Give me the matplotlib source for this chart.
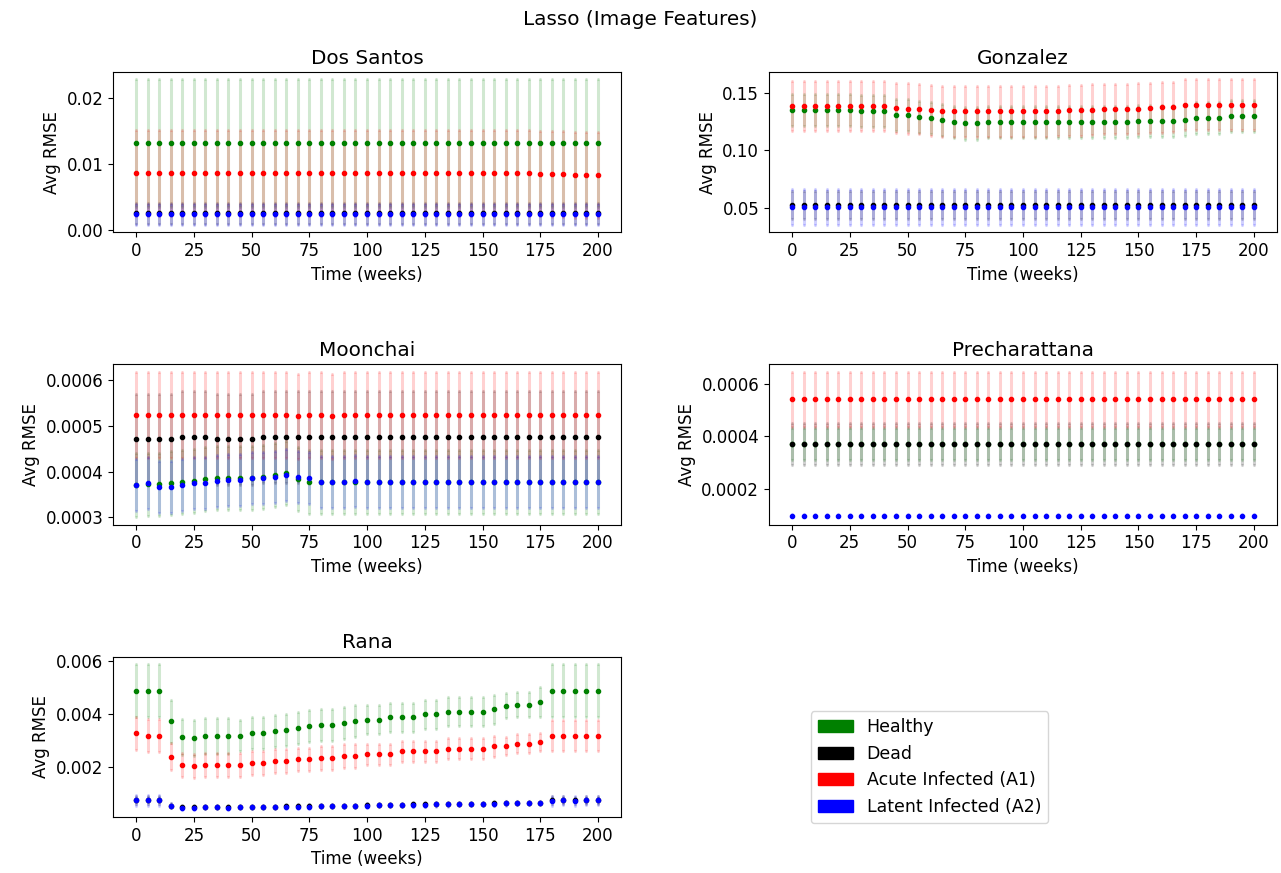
"""Lasso RMSE over time for each model, one panel per model (mean ± std)."""
import matplotlib.pyplot as plt
import matplotlib.patches as mpatches
from matplotlib.colors import to_rgba

plt.rcParams["font.size"] = 12

weeks = [0, 5, 10, 15, 20, 25, 30, 35, 40, 45,
         50, 55, 60, 65, 70, 75, 80, 85, 90, 95,
         100, 105, 110, 115, 120, 125, 130, 135, 140, 145,
         150, 155, 160, 165, 170, 175, 180, 185, 190, 195,
         200]

SERIES = [("Healthy", "green"), ("Dead", "black"),
          ("Acute Infected (A1)", "red"), ("Latent Infected (A2)", "blue")]

# Dos Santos
ds_healthy = [0.0132, 0.0132, 0.0132, 0.0132, 0.0132, 0.0132, 0.0132, 0.0132, 0.0132, 0.0132,
              0.0132, 0.0132, 0.0132, 0.0132, 0.0132, 0.0132, 0.0132, 0.0132, 0.0132, 0.0132,
              0.0132, 0.0132, 0.0132, 0.0132, 0.0132, 0.0132, 0.0132, 0.0132, 0.0132, 0.0132,
              0.0132, 0.0132, 0.0132, 0.0132, 0.0132, 0.0132, 0.0132, 0.0132, 0.0132, 0.0132,
              0.0132]
ds_dead = [0.0026, 0.0026, 0.0026, 0.0026, 0.0026, 0.0026, 0.0026, 0.0026, 0.0026, 0.0026,
           0.0026, 0.0026, 0.0026, 0.0026, 0.0026, 0.0026, 0.0026, 0.0026, 0.0026, 0.0026,
           0.0026, 0.0026, 0.0026, 0.0026, 0.0026, 0.0026, 0.0026, 0.0026, 0.0026, 0.0026,
           0.0026, 0.0026, 0.0026, 0.0026, 0.0026, 0.0026, 0.0026, 0.0026, 0.0026, 0.0026,
           0.0026]
ds_acute = [0.0087, 0.0087, 0.0087, 0.0087, 0.0087, 0.0087, 0.0087, 0.0087, 0.0087, 0.0087,
            0.0087, 0.0087, 0.0087, 0.0087, 0.0087, 0.0087, 0.0087, 0.0087, 0.0087, 0.0087,
            0.0087, 0.0087, 0.0087, 0.0087, 0.0087, 0.0087, 0.0087, 0.0087, 0.0087, 0.0087,
            0.0087, 0.0087, 0.0087, 0.0087, 0.0087, 0.0086, 0.0085, 0.0085, 0.0084, 0.0084,
            0.0084]
ds_latent = [0.0024, 0.0024, 0.0024, 0.0024, 0.0024, 0.0024, 0.0024, 0.0024, 0.0024, 0.0024,
             0.0024, 0.0024, 0.0024, 0.0024, 0.0024, 0.0024, 0.0024, 0.0024, 0.0024, 0.0024,
             0.0024, 0.0024, 0.0024, 0.0024, 0.0024, 0.0024, 0.0024, 0.0024, 0.0024, 0.0024,
             0.0024, 0.0024, 0.0024, 0.0024, 0.0024, 0.0024, 0.0024, 0.0024, 0.0024, 0.0024,
             0.0024]
ds_err = [0.0097, 0.0016, 0.0065, 0.0016]

# Gonzalez
gz_healthy = [0.1355, 0.1355, 0.1355, 0.1355, 0.1355, 0.1355, 0.134, 0.134, 0.134, 0.131,
              0.1305, 0.129, 0.128, 0.1265, 0.125, 0.1235, 0.1235, 0.1245, 0.125, 0.125,
              0.125, 0.125, 0.125, 0.125, 0.125, 0.125, 0.125, 0.125, 0.125, 0.125,
              0.1255, 0.126, 0.126, 0.126, 0.1266, 0.128, 0.128, 0.1284, 0.1297, 0.1297,
              0.1297]
gz_dead = [0.0522, 0.0522, 0.0522, 0.0522, 0.0522, 0.0522, 0.0522, 0.0522, 0.0522, 0.0522,
           0.0522, 0.0522, 0.0522, 0.0522, 0.0522, 0.0522, 0.0522, 0.0522, 0.0522, 0.0522,
           0.0522, 0.0522, 0.0522, 0.0522, 0.0522, 0.0522, 0.0522, 0.0522, 0.0522, 0.0522,
           0.0522, 0.0522, 0.0522, 0.0522, 0.0522, 0.0522, 0.0522, 0.0522, 0.0522, 0.0522,
           0.0522]
gz_acute = [0.1386, 0.1386, 0.1386, 0.1386, 0.1386, 0.1386, 0.1386, 0.1386, 0.1386, 0.137,
            0.1365, 0.136, 0.135, 0.134, 0.134, 0.134, 0.134, 0.134, 0.134, 0.134,
            0.134, 0.134, 0.134, 0.1345, 0.135, 0.135, 0.1355, 0.136, 0.136, 0.136,
            0.1365, 0.137, 0.1375, 0.138, 0.140, 0.140, 0.140, 0.140, 0.140, 0.140,
            0.140]
gz_latent = [0.0505, 0.0505, 0.0505, 0.0505, 0.0505, 0.0505, 0.0505, 0.0505, 0.0505, 0.0505,
             0.0505, 0.0505, 0.0505, 0.0505, 0.0505, 0.0505, 0.0505, 0.0505, 0.0505, 0.0505,
             0.0505, 0.0505, 0.0505, 0.0505, 0.0505, 0.0505, 0.0505, 0.0505, 0.0505, 0.0505,
             0.0505, 0.0505, 0.0505, 0.0505, 0.0505, 0.0505, 0.0505, 0.0505, 0.0505, 0.0505,
             0.0505]
gz_err = [0.014, 0.012, 0.022, 0.0155]

# Moonchai
mc_healthy = [0.00037, 0.000372, 0.000372, 0.000375, 0.000378, 0.00038, 0.000383, 0.000386, 0.000387, 0.000387,
              0.000387, 0.000389, 0.000393, 0.000398, 0.000383, 0.000378, 0.000377, 0.000377, 0.000377, 0.000377,
              0.000377, 0.000377, 0.000377, 0.000377, 0.000377, 0.000377, 0.000377, 0.000377, 0.000377, 0.000377,
              0.000377, 0.000377, 0.000377, 0.000377, 0.000377, 0.000377, 0.000377, 0.000377, 0.000377, 0.000377,
              0.000377]
mc_dead = [0.000471, 0.000471, 0.000471, 0.000471, 0.000476, 0.000476, 0.000476, 0.000471, 0.000471, 0.000471,
           0.000471, 0.000476, 0.000476, 0.000476, 0.000476, 0.000476, 0.000476, 0.000476, 0.000476, 0.000476,
           0.000476, 0.000476, 0.000476, 0.000476, 0.000476, 0.000476, 0.000476, 0.000476, 0.000476, 0.000476,
           0.000476, 0.000476, 0.000476, 0.000476, 0.000476, 0.000476, 0.000476, 0.000476, 0.000476, 0.000476,
           0.000476]
mc_acute = [0.000525, 0.000525, 0.000525, 0.000525, 0.000525, 0.000525, 0.000525, 0.000525, 0.000525, 0.000525,
            0.000525, 0.000525, 0.000525, 0.000525, 0.000521, 0.000525, 0.000525, 0.000521, 0.000525, 0.000525,
            0.000525, 0.000525, 0.000525, 0.000525, 0.000525, 0.000525, 0.000525, 0.000525, 0.000525, 0.000525,
            0.000525, 0.000525, 0.000525, 0.000525, 0.000525, 0.000525, 0.000525, 0.000525, 0.000525, 0.000525,
            0.000525]
mc_latent = [0.00037, 0.000375, 0.000367, 0.000367, 0.000371, 0.000375, 0.000375, 0.00038, 0.000382, 0.000382,
             0.000387, 0.000387, 0.000389, 0.000393, 0.000388, 0.000386, 0.000378, 0.000378, 0.000378, 0.00038,
             0.000378, 0.000378, 0.000378, 0.000378, 0.000378, 0.000378, 0.000378, 0.000378, 0.000378, 0.000378,
             0.000378, 0.000378, 0.000378, 0.000378, 0.000378, 0.000378, 0.000378, 0.000378, 0.000378, 0.000378,
             0.000378]
mc_err = [0.00007, 0.0001, 0.000094, 0.000057]

# Precharattana
pc_healthy = [0.00037, 0.00037, 0.00037, 0.00037, 0.00037, 0.00037, 0.00037, 0.00037, 0.00037, 0.00037,
              0.00037, 0.00037, 0.00037, 0.00037, 0.00037, 0.00037, 0.00037, 0.00037, 0.00037, 0.00037,
              0.00037, 0.00037, 0.00037, 0.00037, 0.00037, 0.00037, 0.00037, 0.00037, 0.00037, 0.00037,
              0.00037, 0.00037, 0.00037, 0.00037, 0.00037, 0.00037, 0.00037, 0.00037, 0.00037, 0.00037,
              0.00037]
pc_dead = [0.000372, 0.000372, 0.000372, 0.000372, 0.000372, 0.000372, 0.000372, 0.000372, 0.000372, 0.000372,
           0.000372, 0.000372, 0.000372, 0.000372, 0.000372, 0.000372, 0.000372, 0.000372, 0.000372, 0.000372,
           0.000372, 0.000372, 0.000372, 0.000372, 0.000372, 0.000372, 0.000372, 0.000372, 0.000372, 0.000372,
           0.000372, 0.000372, 0.000372, 0.000372, 0.000372, 0.000372, 0.000372, 0.000372, 0.000372, 0.000372,
           0.000372]
pc_acute = [0.00054, 0.00054, 0.00054, 0.00054, 0.00054, 0.00054, 0.00054, 0.00054, 0.00054, 0.00054,
            0.00054, 0.00054, 0.00054, 0.00054, 0.00054, 0.00054, 0.00054, 0.00054, 0.00054, 0.00054,
            0.00054, 0.00054, 0.00054, 0.00054, 0.00054, 0.00054, 0.00054, 0.00054, 0.00054, 0.00054,
            0.00054, 0.00054, 0.00054, 0.00054, 0.00054, 0.00054, 0.00054, 0.00054, 0.00054, 0.00054,
            0.00054]
pc_latent = [0.0001, 0.0001, 0.0001, 0.0001, 0.0001, 0.0001, 0.0001, 0.0001, 0.0001, 0.0001,
             0.0001, 0.0001, 0.0001, 0.0001, 0.0001, 0.0001, 0.0001, 0.0001, 0.0001, 0.0001,
             0.0001, 0.0001, 0.0001, 0.0001, 0.0001, 0.0001, 0.0001, 0.0001, 0.0001, 0.0001,
             0.0001, 0.0001, 0.0001, 0.0001, 0.0001, 0.0001, 0.0001, 0.0001, 0.0001, 0.0001,
             0.0001]
pc_err = [0.00006, 0.00008, 0.000105, 0.000007]

# Rana
rn_healthy = [0.0049, 0.0049, 0.0049, 0.00374, 0.00315, 0.0031, 0.00319, 0.0032, 0.0032, 0.0032,
              0.0033, 0.0033, 0.00336, 0.00342, 0.00349, 0.00355, 0.0036, 0.0036, 0.00368, 0.00374,
              0.0038, 0.0038, 0.0039, 0.0039, 0.0039, 0.004, 0.004, 0.0041, 0.0041, 0.0041,
              0.0041, 0.0042, 0.00433, 0.00436, 0.00436, 0.00447, 0.0049, 0.0049, 0.0049, 0.0049,
              0.0049]
rn_dead = [0.00077, 0.00077, 0.00077, 0.00056, 0.00049, 0.00049, 0.0005, 0.0005, 0.00049, 0.0005,
           0.0005, 0.0005, 0.00051, 0.00053, 0.00053, 0.00053, 0.00054, 0.00054, 0.00055, 0.00055,
           0.00057, 0.00058, 0.00058, 0.00059, 0.0006, 0.0006, 0.00061, 0.00061, 0.00062, 0.00063,
           0.00063, 0.00064, 0.00065, 0.00066, 0.00066, 0.00066, 0.00078, 0.00076, 0.00075, 0.00076,
           0.00076]
rn_acute = [0.00328, 0.0032, 0.0032, 0.00241, 0.0021, 0.00205, 0.0021, 0.0021, 0.0021, 0.0021,
            0.00215, 0.00215, 0.00223, 0.00223, 0.0023, 0.0023, 0.00236, 0.00236, 0.00242, 0.00242,
            0.0025, 0.0025, 0.0025, 0.0026, 0.0026, 0.0026, 0.0026, 0.0027, 0.0027, 0.0027,
            0.0027, 0.0028, 0.0028, 0.0029, 0.0029, 0.00295, 0.0032, 0.0032, 0.0032, 0.0032,
            0.0032]
rn_latent = [0.00075, 0.00075, 0.00075, 0.00055, 0.00048, 0.00048, 0.00049, 0.00049, 0.00048, 0.00049,
             0.00049, 0.00049, 0.0005, 0.0005, 0.00052, 0.00052, 0.00053, 0.00053, 0.00054, 0.00054,
             0.00056, 0.00057, 0.00057, 0.00058, 0.00059, 0.00059, 0.0006, 0.0006, 0.00061, 0.00062,
             0.00062, 0.00063, 0.00064, 0.00065, 0.00065, 0.00065, 0.00074, 0.00075, 0.00074, 0.00075,
             0.00075]
rn_healthy_err = [0.001, 0.001, 0.001, 0.00082, 0.00068, 0.00068, 0.00068, 0.00068, 0.00068, 0.0006,
                  0.0006, 0.0006, 0.0006, 0.0006, 0.0006, 0.0006, 0.0006, 0.0006, 0.0006, 0.0006,
                  0.00055, 0.00055, 0.00055, 0.00055, 0.00055, 0.00055, 0.00055, 0.00055, 0.00055, 0.00055,
                  0.00055, 0.00055, 0.00047, 0.00047, 0.00047, 0.00058, 0.001, 0.001, 0.001, 0.001,
                  0.001]
rn_dead_err = [0.00015, 0.00015, 0.00015, 0.0001, 0.00008, 0.00008, 0.00008, 0.00008, 0.00008, 0.00008,
               0.00008, 0.00008, 0.00008, 0.00008, 0.00008, 0.00008, 0.00008, 0.00008, 0.00008, 0.00008,
               0.00008, 0.00008, 0.00008, 0.00008, 0.00008, 0.00008, 0.00008, 0.00008, 0.00008, 0.00008,
               0.00008, 0.00008, 0.00008, 0.00008, 0.00008, 0.00008, 0.00015, 0.00015, 0.00015, 0.00015,
               0.00015]
rn_acute_err = [0.00062, 0.00062, 0.00062, 0.0005, 0.00045, 0.00045, 0.00045, 0.00045, 0.00045, 0.00045,
                0.00045, 0.00045, 0.00045, 0.00045, 0.00045, 0.00045, 0.00045, 0.00045, 0.00045, 0.00045,
                0.0004, 0.0004, 0.0004, 0.0004, 0.0004, 0.0004, 0.0004, 0.0004, 0.0004, 0.0004,
                0.0004, 0.0004, 0.00035, 0.00035, 0.00035, 0.00035, 0.0006, 0.0006, 0.0006, 0.0006,
                0.0006]
rn_latent_err = [0.0002, 0.0002, 0.0002, 0.0001, 0.00008, 0.00008, 0.00008, 0.00008, 0.00008, 0.00008,
                 0.00008, 0.00008, 0.00008, 0.00008, 0.00008, 0.00008, 0.00008, 0.00008, 0.00008, 0.00008,
                 0.00008, 0.00008, 0.00008, 0.00008, 0.00008, 0.00008, 0.00008, 0.00008, 0.00008, 0.00008,
                 0.00008, 0.00008, 0.00008, 0.00008, 0.00008, 0.00008, 0.00018, 0.00018, 0.00018, 0.00018,
                 0.00018]

panels = [
    ("Dos Santos", [ds_healthy, ds_dead, ds_acute, ds_latent], ds_err),
    ("Gonzalez", [gz_healthy, gz_dead, gz_acute, gz_latent], gz_err),
    ("Moonchai", [mc_healthy, mc_dead, mc_acute, mc_latent], mc_err),
    ("Precharattana", [pc_healthy, pc_dead, pc_acute, pc_latent], pc_err),
    ("Rana", [rn_healthy, rn_dead, rn_acute, rn_latent],
     [rn_healthy_err, rn_dead_err, rn_acute_err, rn_latent_err]),
]

fig, axes = plt.subplots(3, 2, figsize=(12.81, 8.73), dpi=100)
fig.subplots_adjust(left=0.0882, right=0.9969, top=0.9175, bottom=0.0641,
                    wspace=0.291, hspace=0.825)

for ax, (name, means, errs) in zip(axes.flat, panels):
    for mean, err, (label, color) in zip(means, errs, SERIES):
        ax.errorbar(weeks, mean, yerr=err, fmt=".", color=color, ms=6,
                    ecolor=to_rgba(color, 0.18), elinewidth=2.2,
                    capsize=1, capthick=2.2)
    ax.set_title(name)
    ax.set_xlabel("Time (weeks)")
    ax.set_ylabel("Avg RMSE")

axes[2, 1].axis("off")

handles = [mpatches.Patch(color=c, label=l) for l, c in SERIES]
fig.legend(handles=handles, loc="center", bbox_to_anchor=(0.7256, 0.1214),
           fontsize=12.5)
fig.suptitle("Lasso (Image Features)", y=0.988)

fig.savefig("out.png", dpi=100)
